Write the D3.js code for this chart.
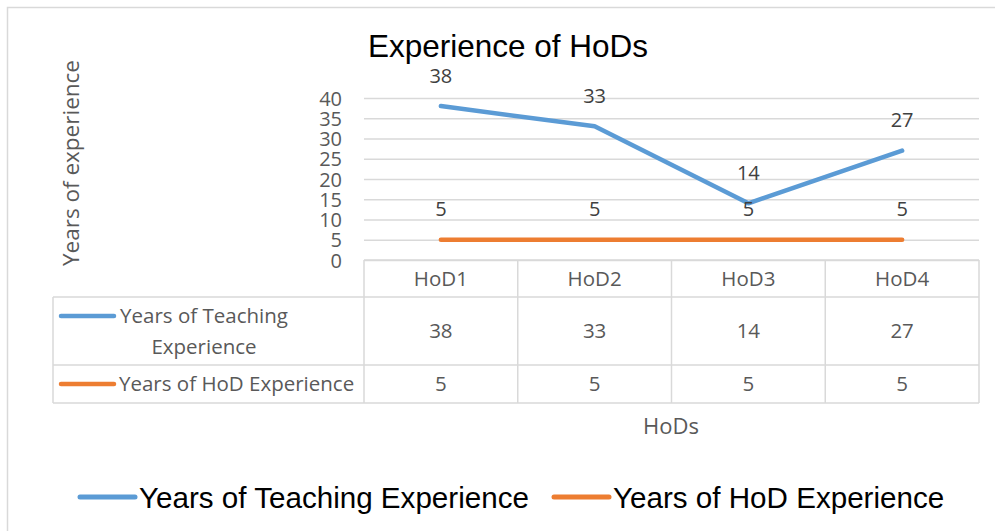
<!DOCTYPE html>
<html>
<head>
<meta charset="utf-8">
<script src="https://cdn.jsdelivr.net/npm/d3@7"></script>
<style>
  html, body { margin: 0; padding: 0; background: #fff; }
  svg { display: block; }
</style>
</head>
<body>
<svg id="chart" width="995" height="531"></svg>
<script>
const categories = ["HoD1", "HoD2", "HoD3", "HoD4"];
const teaching = [38, 33, 14, 27];
const hodExp = [5, 5, 5, 5];
const yTicks = [0, 5, 10, 15, 20, 25, 30, 35, 40];
const seriesNames = ["Years of Teaching Experience", "Years of HoD Experience"];
const seriesColors = ["#5b9bd5", "#ed7d31"];
const chartTitle = "Experience of HoDs";
const yTitle = "Years of experience";
const xTitle = "HoDs";

(function () {
const svg = d3.select("#chart");
const gray = "#595959";
const grid = "#d9d9d9";
const tickFont = "'Open Sans', sans-serif";

// outer frame
svg.append("rect").attr("x", 7.5).attr("y", 7.5).attr("width", 1000).attr("height", 600)
  .attr("fill", "none").attr("stroke", grid).attr("stroke-width", 1.5);

const pLeft = 364, pRight = 979, pTop = 98, pBottom = 260;
const x = d3.scaleBand().domain(categories).range([pLeft, pRight]);
const y = d3.scaleLinear().domain([0, 40]).range([pBottom, pTop]);

// title
svg.append("text").attr("x", 508).attr("y", 57).attr("text-anchor", "middle")
  .attr("font-family", "'Liberation Sans', Arial, sans-serif").attr("font-size", 31.5)
  .attr("fill", "#000").text(chartTitle);

// y axis with gridlines
const yAxis = svg.append("g").attr("transform", `translate(${pLeft},0)`)
  .call(d3.axisLeft(y).tickValues(yTicks).tickSize(-(pRight - pLeft)).tickPadding(22));
yAxis.select(".domain").remove();
yAxis.selectAll(".tick line").attr("stroke", grid).attr("stroke-width", 1.5);
yAxis.selectAll(".tick text").attr("fill", gray).attr("font-family", tickFont)
  .attr("font-size", 20).attr("dy", "0.35em");

// y title
svg.append("text").attr("transform", "translate(70,163) rotate(-90)")
  .attr("text-anchor", "middle").attr("dominant-baseline", "central")
  .attr("font-family", tickFont).attr("font-size", 22.5).attr("fill", gray).text(yTitle);

// lines
const series = [teaching, hodExp];
const line = d3.line().x((d, i) => x(categories[i]) + x.bandwidth() / 2).y(d => y(d));
series.forEach((s, k) => {
  svg.append("path").datum(s).attr("d", line).attr("fill", "none")
    .attr("stroke", seriesColors[k]).attr("stroke-width", 4.5)
    .attr("stroke-linecap", "round").attr("stroke-linejoin", "round");
});
// data labels
series.forEach((s, k) => {
  svg.append("g").selectAll("text").data(s).join("text")
    .attr("x", (d, i) => x(categories[i]) + x.bandwidth() / 2)
    .attr("y", d => y(d) - 31)
    .attr("text-anchor", "middle").attr("dominant-baseline", "central")
    .attr("font-family", tickFont).attr("font-size", 20).attr("fill", "#404040")
    .text(d => d);
});

// data table
const tLeft = 53;
const rows = [pBottom, 297, 365, 403];
const tb = svg.append("g").attr("stroke", grid).attr("stroke-width", 1.5).attr("fill", "none");
tb.append("line").attr("x1", pLeft).attr("x2", pRight).attr("y1", rows[0]).attr("y2", rows[0]);
[1, 2, 3].forEach(r => {
  tb.append("line").attr("x1", tLeft).attr("x2", pRight).attr("y1", rows[r]).attr("y2", rows[r]);
});
tb.append("line").attr("x1", tLeft).attr("x2", tLeft).attr("y1", rows[1]).attr("y2", rows[3]);
const vlines = categories.map(c => x(c)).concat([pRight]);
tb.selectAll(".v").data(vlines).join("line")
  .attr("x1", d => d).attr("x2", d => d).attr("y1", rows[0]).attr("y2", rows[3]);

const tt = svg.append("g").attr("font-family", tickFont).attr("font-size", 20.5).attr("fill", gray)
  .attr("text-anchor", "middle").attr("dominant-baseline", "central");
tt.selectAll(".h").data(categories).join("text")
  .attr("x", d => x(d) + x.bandwidth() / 2).attr("y", (rows[0] + rows[1]) / 2 - 1).text(d => d);
tt.selectAll(".r1").data(teaching).join("text")
  .attr("x", (d, i) => x(categories[i]) + x.bandwidth() / 2).attr("y", (rows[1] + rows[2]) / 2 - 1).text(d => d);
tt.selectAll(".r2").data(hodExp).join("text")
  .attr("x", (d, i) => x(categories[i]) + x.bandwidth() / 2).attr("y", (rows[2] + rows[3]) / 2 - 1).text(d => d);

// row headers
svg.append("line").attr("x1", 61).attr("x2", 114).attr("y1", 316).attr("y2", 316)
  .attr("stroke", seriesColors[0]).attr("stroke-width", 4.5).attr("stroke-linecap", "round");
tt.append("text").attr("x", 204).attr("y", 315).text("Years of Teaching");
tt.append("text").attr("x", 204).attr("y", 346).text("Experience");
svg.append("line").attr("x1", 61).attr("x2", 114).attr("y1", 384).attr("y2", 384)
  .attr("stroke", seriesColors[1]).attr("stroke-width", 4.5).attr("stroke-linecap", "round");
tt.append("text").attr("x", 119).attr("y", 383).attr("text-anchor", "start").text(seriesNames[1]);

// x title
svg.append("text").attr("x", 671).attr("y", 425).attr("text-anchor", "middle")
  .attr("dominant-baseline", "central").attr("font-family", tickFont).attr("font-size", 22)
  .attr("fill", gray).text(xTitle);

// legend
const legX = [80, 554];
const leg = svg.append("g");
seriesNames.forEach((n, i) => {
  leg.append("line").attr("x1", legX[i]).attr("x2", legX[i] + 55).attr("y1", 497).attr("y2", 497)
    .attr("stroke", seriesColors[i]).attr("stroke-width", 5).attr("stroke-linecap", "round");
  leg.append("text").attr("x", legX[i] + 59).attr("y", 497).attr("dominant-baseline", "central")
    .attr("font-family", "'Liberation Sans', Arial, sans-serif").attr("font-size", 29.6)
    .attr("fill", "#000").text(n);
});
})();
</script>
</body>
</html>
